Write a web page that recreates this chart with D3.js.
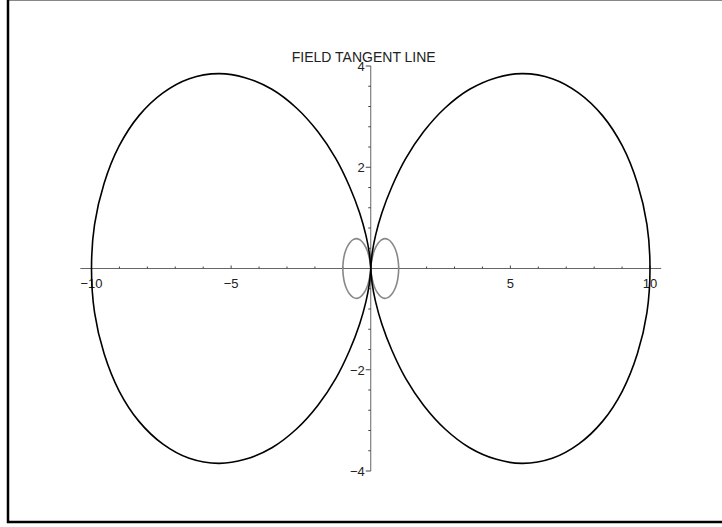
<!DOCTYPE html>
<html>
<head>
<meta charset="utf-8">
<script src="https://cdn.jsdelivr.net/npm/d3@7"></script>
<style>
  body { margin: 0; background: #fff; }
  svg text { font-family: "Liberation Sans", Arial, sans-serif; font-size: 13px; fill: #222; }
  svg text.title { font-size: 14px; }
</style>
</head>
<body>
<svg id="plot"></svg>
<script>
const title = "FIELD TANGENT LINE";

const xTickLabels = [-10, -5, 5, 10];
const yTickLabels = [-4, -2, 2, 4];

// big black loops
const rightLoop = [
    [10, 0], [9.89, 0.87], [9.55, 1.68], [9.01, 2.42], [8.30, 3.02], [7.44, 3.47],
    [6.50, 3.75], [5.44, 3.85], [4.50, 3.77], [3.54, 3.54], [2.66, 3.17], [1.89, 2.70],
    [1.25, 2.17], [0.76, 1.62], [0.40, 1.10], [0.17, 0.65], [0.05, 0.30], [0.01, 0.08],
    [0, 0],
    [0.01, -0.08], [0.05, -0.30], [0.17, -0.65], [0.40, -1.10], [0.76, -1.62], [1.25, -2.17],
    [1.89, -2.70], [2.66, -3.17], [3.54, -3.54], [4.50, -3.77], [5.44, -3.85], [6.50, -3.75],
    [7.44, -3.47], [8.30, -3.02], [9.01, -2.42], [9.55, -1.68], [9.89, -0.87]
];
const leftLoop = [
    [-10, 0], [-9.89, 0.87], [-9.55, 1.68], [-9.01, 2.42], [-8.30, 3.02], [-7.44, 3.47],
    [-6.50, 3.75], [-5.44, 3.85], [-4.50, 3.77], [-3.54, 3.54], [-2.66, 3.17], [-1.89, 2.70],
    [-1.25, 2.17], [-0.76, 1.62], [-0.40, 1.10], [-0.17, 0.65], [-0.05, 0.30], [-0.01, 0.08],
    [0, 0],
    [-0.01, -0.08], [-0.05, -0.30], [-0.17, -0.65], [-0.40, -1.10], [-0.76, -1.62], [-1.25, -2.17],
    [-1.89, -2.70], [-2.66, -3.17], [-3.54, -3.54], [-4.50, -3.77], [-5.44, -3.85], [-6.50, -3.75],
    [-7.44, -3.47], [-8.30, -3.02], [-9.01, -2.42], [-9.55, -1.68], [-9.89, -0.87]
];

// small grey loops near the origin
const rightSmall = [
    [1.0, 0], [0.98, 0.16], [0.93, 0.30], [0.85, 0.42], [0.75, 0.51], [0.63, 0.57],
    [0.50, 0.59], [0.37, 0.56], [0.24, 0.48], [0.13, 0.36], [0.05, 0.20], [0, 0],
    [0.05, -0.20], [0.13, -0.36], [0.24, -0.48], [0.37, -0.56], [0.50, -0.59], [0.63, -0.57],
    [0.75, -0.51], [0.85, -0.42], [0.93, -0.30], [0.98, -0.16]
];
const leftSmall = [
    [-1.0, 0], [-0.98, 0.16], [-0.93, 0.30], [-0.85, 0.42], [-0.75, 0.51], [-0.63, 0.57],
    [-0.50, 0.59], [-0.37, 0.56], [-0.24, 0.48], [-0.13, 0.36], [-0.05, 0.20], [0, 0],
    [-0.05, -0.20], [-0.13, -0.36], [-0.24, -0.48], [-0.37, -0.56], [-0.50, -0.59], [-0.63, -0.57],
    [-0.75, -0.51], [-0.85, -0.42], [-0.93, -0.30], [-0.98, -0.16]
];

const width = 722;
const height = 527;

let svg = d3.select("#plot")
    .attr("width", width)
    .attr("height", height);

// frame (left, top, bottom visible in the picture)
svg.append("path")
    .attr("d", `M 8.5 0.5 L ${width} 0.5`)
    .attr("stroke", "#888")
    .attr("stroke-width", 1)
    .attr("fill", "none");
svg.append("path")
    .attr("d", `M 8 0 L 8 522 L ${width} 522`)
    .attr("stroke", "#000")
    .attr("stroke-width", 2.5)
    .attr("fill", "none");

const x = d3.scaleLinear().domain([-10, 10]).range([91.5, 650]);
const y = d3.scaleLinear().domain([-4, 4]).range([471, 66]);

// x axis
svg.append("line")
    .attr("x1", x(-10.4)).attr("x2", x(10.4))
    .attr("y1", y(0)).attr("y2", y(0))
    .attr("stroke", "#666").attr("stroke-width", 1);

svg.selectAll(".xminor")
    .data(d3.range(-10, 11, 1).filter(d => d !== 0))
    .join("line")
    .attr("x1", d => x(d)).attr("x2", d => x(d))
    .attr("y1", y(0)).attr("y2", d => y(0) - (d % 5 === 0 ? 3 : 2))
    .attr("stroke", "#444").attr("stroke-width", 1);

svg.selectAll(".xlabel")
    .data(xTickLabels)
    .join("text")
    .attr("x", d => x(d))
    .attr("y", y(0) + 19)
    .attr("text-anchor", "middle")
    .text(d => d3.format("")(d).replace("-", "\u2212"));

// y axis
svg.append("line")
    .attr("x1", x(0)).attr("x2", x(0))
    .attr("y1", y(4)).attr("y2", y(-4))
    .attr("stroke", "#666").attr("stroke-width", 1);

svg.selectAll(".yminor")
    .data(d3.range(-4, 4.01, 0.4).filter(d => Math.abs(d) > 0.01))
    .join("line")
    .attr("x1", x(0)).attr("x2", d => x(0) - (Math.abs(d % 2) < 0.01 ? 5 : 2.5))
    .attr("y1", d => y(d)).attr("y2", d => y(d))
    .attr("stroke", "#444").attr("stroke-width", 1);

svg.selectAll(".ylabel")
    .data(yTickLabels)
    .join("text")
    .attr("x", x(0) - 6)
    .attr("y", d => y(d) + 5)
    .attr("text-anchor", "end")
    .text(d => d3.format("")(d).replace("-", "\u2212"));

// title
svg.append("text")
    .attr("class", "title")
    .attr("x", x(0) - 7)
    .attr("y", 62)
    .attr("text-anchor", "middle")
    .text(title);

// curves
const line = d3.line()
    .curve(d3.curveCatmullRomClosed)
    .x(d => x(d[0]))
    .y(d => y(d[1]));

[rightSmall, leftSmall].forEach(pts => {
    svg.append("path")
        .attr("d", line(pts))
        .attr("fill", "none")
        .attr("stroke", "#888")
        .attr("stroke-width", 1.6);
});

[rightLoop, leftLoop].forEach(pts => {
    svg.append("path")
        .attr("d", line(pts))
        .attr("fill", "none")
        .attr("stroke", "#000")
        .attr("stroke-width", 1.6);
});
</script>
</body>
</html>
